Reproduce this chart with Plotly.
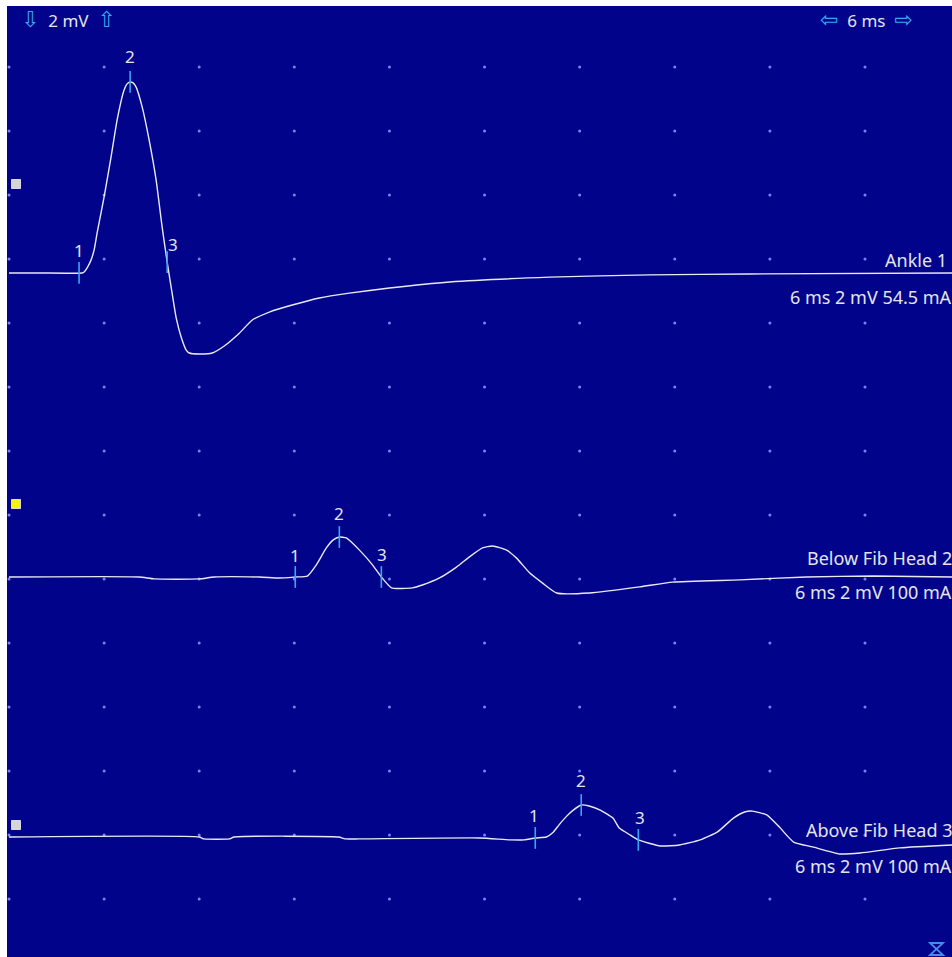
import numpy as np
import plotly.graph_objects as go

# ---------------- data (time in ms, amplitude in mV relative to baseline) ----------------
ankle_t = [0.0, 1.9, 4.61, 4.74, 4.93, 5.18, 5.37, 5.56, 6.00, 6.44, 6.82, 7.26, 7.45, 7.64, 7.83,
           8.02, 8.40, 8.84, 9.28, 9.66, 9.98, 10.29, 10.55, 10.86, 11.18, 11.37, 12.00, 12.82,
           13.58, 14.53, 15.35, 16.42, 17.87, 19.58, 21.47, 24.0, 27.79, 34.1, 40.4, 46.7, 59.5]
ankle_v = [0.0, 0.0, 0.0, 0.03, 0.16, 0.41, 0.72, 1.25, 2.38, 3.63, 4.78, 5.72, 5.91, 5.97, 5.94,
           5.81, 5.19, 4.16, 2.91, 1.44, 0.34, -0.63, -1.41, -2.00, -2.41, -2.50, -2.53, -2.50,
           -2.28, -1.88, -1.47, -1.22, -1.00, -0.78, -0.63, -0.47, -0.28, -0.13, -0.06, -0.03, 0.0]

below_t = [0.0, 8.21, 9.16, 12.0, 12.95, 15.79, 17.05, 18.06, 18.82, 19.39, 20.02, 20.46, 20.84,
           21.28, 22.11, 22.93, 23.49, 24.13, 25.45, 26.08, 27.16, 28.23, 29.05, 29.87, 30.51,
           31.39, 32.02, 32.84, 33.66, 34.55, 36.63, 39.79, 41.87, 46.1, 50.3, 54.5, 59.5]
below_v = [0.0, 0.0, -0.06, -0.06, 0.0, 0.0, -0.03, 0.0, 0.03, 0.38, 0.91, 1.16, 1.25,
           1.22, 0.84, 0.38, 0.0, -0.34, -0.34, -0.25, -0.03, 0.31, 0.63, 0.91, 0.97,
           0.84, 0.59, 0.13, -0.19, -0.50, -0.50, -0.31, -0.16, -0.09, 0.0, 0.03, 0.0]

above_t = [0.0, 12.0, 12.3, 13.9, 14.2, 20.8, 21.2, 22.1, 29.7, 31.6, 32.5, 33.2, 33.9, 34.3,
           34.7, 35.2, 35.6, 36.1, 36.6, 37.3, 38.1, 38.5, 39.2, 39.7, 41.1, 42.3, 43.6, 44.7,
           45.7, 46.4, 46.9, 47.8, 48.6, 49.5, 50.7, 52.4, 53.7, 56.2, 59.5]
above_v = [0.0, 0.0, -0.06, -0.06, 0.0, 0.0, -0.06, -0.06, -0.03, -0.09, -0.09, -0.03, 0.0, 0.13,
           0.38, 0.66, 0.84, 1.0, 0.97, 0.84, 0.59, 0.28, 0.06, -0.09, -0.28, -0.25, -0.09, 0.16,
           0.59, 0.78, 0.81, 0.69, 0.31, -0.16, -0.31, -0.53, -0.50, -0.34, -0.25]

# cursor (marker) latencies in ms for each trace: points 1, 2, 3
ankle_cursors = [4.42, 7.64, 9.98]
below_cursors = [18.06, 20.84, 23.49]
above_cursors = [33.2, 36.1, 39.7]
cursor_labels = ["1", "2", "3"]

site_names = ["Ankle 1", "Below Fib Head 2", "Above Fib Head 3"]
site_settings = ["6 ms 2 mV 54.5 mA", "6 ms 2 mV 100 mA", "6 ms 2 mV 100 mA"]

time_div_ms = 6
amp_div_mv = 2

# ---------------- layout constants ----------------
BG = "#01048a"
TRACE = "#e9e9ef"
CURSOR = "#3aa6f0"
TEXT = "#e4e4ea"
DOT = "#7d80f5"
FONT = "Noto Sans"

baselines = [19.5625, 10.0625, 1.9375]   # vertical placement of each trace (mV on screen scale)
x_range = [-0.126, 59.49]
y_range = [-1.8125, 27.906]

traces = [(ankle_t, ankle_v, ankle_cursors),
          (below_t, below_v, below_cursors),
          (above_t, above_v, above_cursors)]

fig = go.Figure()

# grid dots at every division
gx = np.arange(0, 60, time_div_ms)
gy = np.arange(0, 28, amp_div_mv)
GX, GY = np.meshgrid(gx, gy)
fig.add_trace(go.Scatter(x=GX.ravel(), y=GY.ravel(), mode="markers",
                         marker=dict(size=3, color=DOT), hoverinfo="skip", showlegend=False))

annotations = []
label_shift = [[(0, 22), (0, 25), (6, 18)],
               [(0, 22), (0, 24), (1, 23)],
               [(-1, 22), (0, 25), (2, 22)]]

for i, (t, v, cur) in enumerate(traces):
    base = baselines[i]
    y = np.array(v) + base
    fig.add_trace(go.Scatter(x=t, y=y, mode="lines",
                             line=dict(color=TRACE, width=1.4, shape="spline", smoothing=0.5),
                             hoverinfo="skip", showlegend=False))
    # cursor ticks
    cx, cy = [], []
    for c in cur:
        val = float(np.interp(c, t, v)) + base
        cx += [c, c, None]
        cy += [val - 0.34, val + 0.34, None]
    fig.add_trace(go.Scatter(x=cx, y=cy, mode="lines", line=dict(color=CURSOR, width=1.6),
                             hoverinfo="skip", showlegend=False))
    for j, c in enumerate(cur):
        val = float(np.interp(c, t, v)) + base
        dx, dy = label_shift[i][j]
        annotations.append(dict(x=c, y=val, text=cursor_labels[j], showarrow=False,
                                xshift=dx, yshift=dy, font=dict(family=FONT, size=17, color=TEXT)))

# site labels on the right
name_y = [19.97, 10.66, 2.16]
set_y = [18.81, 9.59, 1.03]
name_dx = [-3, 2, 2]
for i in range(3):
    annotations.append(dict(x=1, xref="paper", y=name_y[i], yref="y", xanchor="right", xshift=name_dx[i],
                            text=site_names[i], showarrow=False,
                            font=dict(family=FONT, size=18, color=TEXT)))
    annotations.append(dict(x=1, xref="paper", y=set_y[i], yref="y", xanchor="right", xshift=2,
                            text=site_settings[i], showarrow=False,
                            font=dict(family=FONT, size=18, color=TEXT)))

arrow = '<span style="color:%s;font-family:DejaVu Sans;font-size:22px">%s</span>'
annotations.append(dict(x=(19 - 7) / 945, xref="paper", y=1, yref="paper", yshift=-13,
                        xanchor="left", yanchor="middle", showarrow=False,
                        text=arrow % (CURSOR, "⇩") + f"  {amp_div_mv} mV  " + arrow % (CURSOR, "⇧"),
                        font=dict(family=FONT, size=17, color=TEXT)))
annotations.append(dict(x=(915 - 7) / 945, xref="paper", y=1, yref="paper", yshift=-13,
                        xanchor="right", yanchor="middle", showarrow=False,
                        text=arrow % (CURSOR, "⇦") + f"  {time_div_ms} ms  " + arrow % (CURSOR, "⇨"),
                        font=dict(family=FONT, size=17, color=TEXT)))


# helper to convert window pixels into paper coords
def px(x):
    return (x - 7) / 945


def py(y):
    return 1 - (y - 6) / 951


shapes = []
# channel indicator squares
for yy, col in [(184, "#d6d6d6"), (504, "#f4f400"), (825, "#d6d6d6")]:
    shapes.append(dict(type="rect", xref="paper", yref="paper", x0=px(11.5), x1=px(20.5),
                       y0=py(yy + 4.5), y1=py(yy - 4.5), fillcolor=col,
                       line=dict(color="#f4f4f4", width=0.8)))
# hourglass icon
x0, x1, y0, y1 = px(930), px(943), py(943), py(955)
shapes.append(dict(type="path", xref="paper", yref="paper",
                   path=f"M {x0},{y0} L {x1},{y0} L {x0},{y1} L {x1},{y1} Z",
                   line=dict(color="#4a8ae8", width=1.8)))

fig.update_layout(
    width=952, height=957,
    margin=dict(l=7, r=0, t=6, b=0),
    paper_bgcolor="white", plot_bgcolor=BG,
    xaxis=dict(range=x_range, visible=False, showgrid=False, zeroline=False, fixedrange=True),
    yaxis=dict(range=y_range, visible=False, showgrid=False, zeroline=False, fixedrange=True),
    annotations=annotations, shapes=shapes, showlegend=False,
)

fig.write_html("out.html", config={"displayModeBar": False},
               post_script="document.body.style.margin='0';document.body.style.overflow='hidden';")
